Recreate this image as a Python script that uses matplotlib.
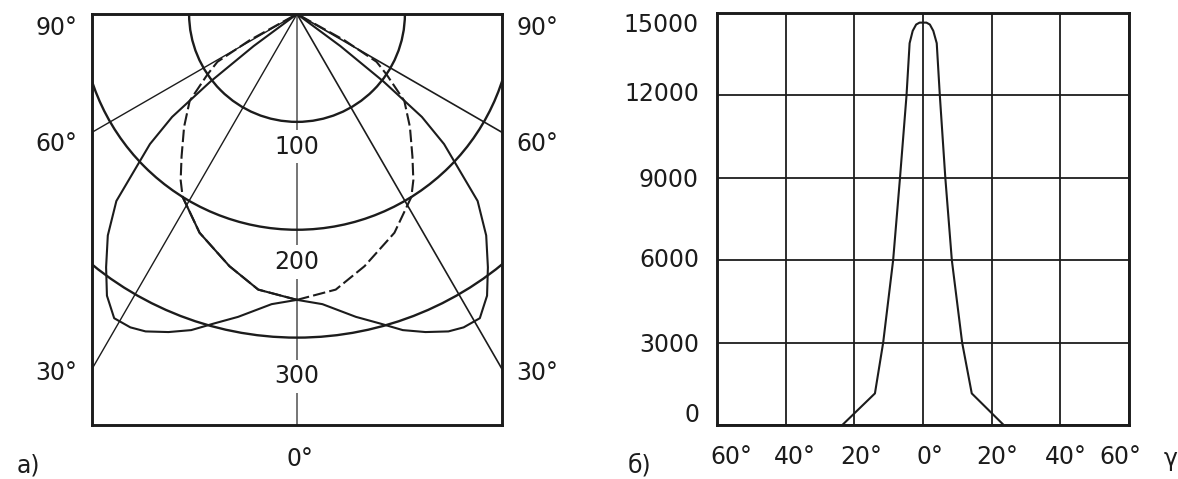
import numpy as np
import matplotlib
matplotlib.use("Agg")
import matplotlib.pyplot as plt
from matplotlib.patches import Circle

W, H = 1178, 479

# a) polar intensity curves, angle from nadir (deg) -> intensity (cd/klm), right half
grid_radii = [100, 200, 300]
ray_angles = [30, 60]
batwing_theta = [0, 5, 11, 15, 18.5, 22, 25.5, 28, 31, 34, 37, 40.5, 44, 48.5, 50.5, 52, 53.5, 55]
batwing_r = [265, 270, 286, 297, 309, 318, 326, 329, 329, 315, 294, 270, 241, 182, 150, 102, 50, 0]
deep_theta = [0, 8, 15, 24, 32, 35, 39, 45, 51, 56, 59, 61, 63]
deep_r = [265, 258, 242, 222, 200, 188, 170, 148, 128, 100, 86, 50, 0]
radius_labels = ["100", "200", "300"]
radius_label_y = [123, 230, 336]

# б) beam profile, gamma (deg) -> intensity (cd)
beam_angle = [-23.5, -14, -11.6, -8.7, -6.7, -4.8, -3.9, -3.0, -2.0, -1.0, 0,
              1.0, 2.0, 3.0, 4.0, 4.9, 6.5, 8.4, 11.4, 14.2, 23.5]
beam_cd = [0, 1150, 3000, 6000, 9000, 12000, 13900, 14350, 14580, 14650, 14650,
           14650, 14580, 14350, 13900, 12000, 9000, 6000, 3000, 1150, 0]
x_grid = [-60, -40, -20, 0, 20, 40, 60]
x_labels = ["60°", "40°", "20°", "0°", "20°", "40°", "60°"]
y_grid = [0, 3000, 6000, 9000, 12000, 15000]

INK = "#1c1c1c"
FS = 17

plt.rcParams["font.family"] = ["DejaVu Sans"]


def px(x, y):
    return x / W, 1 - y / H


def to_xy(theta_deg, r, side=1):
    t = np.radians(np.asarray(theta_deg, dtype=float))
    r = np.asarray(r, dtype=float)
    return side * r * np.sin(t), r * np.cos(t)


fig = plt.figure(figsize=(W / 100, H / 100), dpi=100)
fig.patch.set_facecolor("white")

# ---- panel a ----
ax_a = fig.add_axes([92 / W, 1 - 425 / H, 410 / W, 411 / H])
ax_a.set_xlim(-190, 190)
ax_a.set_ylim(381, 0)
ax_a.set_xticks([])
ax_a.set_yticks([])
for sp in ax_a.spines.values():
    sp.set_linewidth(2.1)
    sp.set_color(INK)

ax_a.plot([0, 0], [0, 381], color="#6a6a6a", lw=1.3, zorder=1)

for r in grid_radii:
    ax_a.add_patch(Circle((0, 0), r, fill=False, ec=INK, lw=1.7, zorder=2))

for ang in ray_angles:
    for side in (-1, 1):
        x, y = to_xy([ang, ang], [0, 800], side)
        ax_a.plot(x, y, color=INK, lw=1.0 if side < 0 else 1.2, zorder=2)

for side in (-1, 1):
    x, y = to_xy(batwing_theta, batwing_r, side)
    ax_a.plot(x, y, color=INK, lw=1.5, zorder=3)
    x, y = to_xy(deep_theta, deep_r, side)
    ax_a.plot(x, y, color=INK, lw=1.5, dashes=(6, 2), zorder=3)

# lower left arc of the deep curve is drawn solid
n_solid = deep_theta.index(32) + 1
x, y = to_xy(deep_theta[:n_solid], deep_r[:n_solid], -1)
ax_a.plot(x, y, color=INK, lw=1.5, zorder=3)

for lab, yl in zip(radius_labels, radius_label_y):
    ax_a.text(0, yl, lab, ha="center", va="center", fontsize=FS, color=INK, zorder=5,
              bbox=dict(boxstyle="square,pad=0.2", fc="white", ec="none"))

for lab, yy in [("90°", 28), ("60°", 144), ("30°", 373)]:
    fig.text(*px(56, yy), lab, ha="center", va="center", fontsize=FS, color=INK)
    fig.text(*px(537, yy), lab, ha="center", va="center", fontsize=FS, color=INK)
fig.text(*px(300, 459), "0°", ha="center", va="center", fontsize=FS, color=INK)
fig.text(*px(28, 466), "a)", ha="center", va="center", fontsize=FS, color=INK)

# ---- panel б ----
ax_b = fig.add_axes([717 / W, 1 - 425 / H, 412 / W, 412 / H])
ax_b.set_xlim(-60, 60)
ax_b.set_ylim(0, 15000)
ax_b.set_xticks(x_grid)
ax_b.set_yticks(y_grid)
ax_b.tick_params(length=0, labelbottom=False, labelleft=False)
ax_b.grid(True, color=INK, lw=1.3)
ax_b.set_axisbelow(True)
for sp in ax_b.spines.values():
    sp.set_linewidth(2.1)
    sp.set_color(INK)

ax_b.plot(beam_angle, beam_cd, color=INK, lw=1.5, zorder=3)

y_nudge = [10, -2, 0, -2, 1, -12]
for val, dy in zip(y_grid, y_nudge):
    ax_b.annotate(f"{val}", xy=(0, val), xycoords=("axes fraction", "data"),
                  xytext=(-18, dy), textcoords="offset pixels",
                  ha="right", va="center", fontsize=FS, color=INK)

x_nudge = [14, 9, 7, 7, 6, 5, -9]
for val, lab, dx in zip(x_grid, x_labels, x_nudge):
    ax_b.annotate(lab, xy=(val, 0), xycoords=("data", "axes fraction"),
                  xytext=(dx, -32), textcoords="offset pixels",
                  ha="center", va="center", fontsize=FS, color=INK)
fig.text(*px(1171, 459), "γ", ha="center", va="center", fontsize=FS, color=INK)
fig.text(*px(639, 466), "б)", ha="center", va="center", fontsize=FS, color=INK)

fig.savefig("out.png", dpi=100)
